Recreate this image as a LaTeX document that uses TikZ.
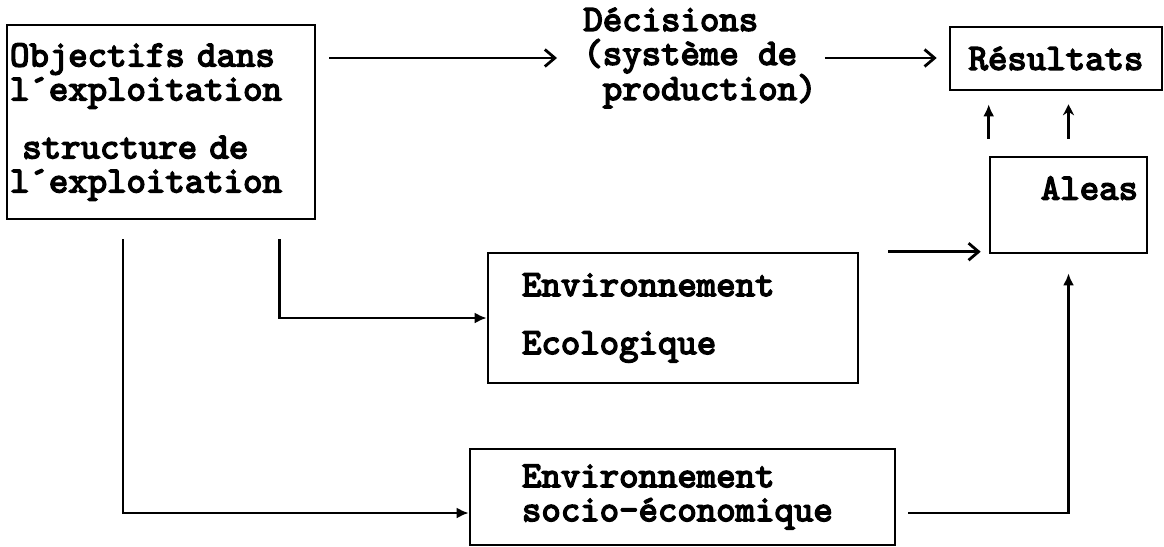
\documentclass[tikz,border=0pt]{standalone}
\usepackage{fontspec}
\newfontfamily\machine{lmmono10-regular.otf}[FakeBold=4]
\usetikzlibrary{arrows.meta}

\begin{document}
\begin{tikzpicture}[
  x=1pt, y=-1pt,
  line width=2.8pt,
  every node/.style={font=\machine\fontsize{37}{34}\selectfont},
  boite/.style={draw, line width=2.6pt, inner sep=0pt},
  chev/.style={-{Straight Barb[length=10pt,width=17pt]}},
  plein/.style={-{Latex[length=12pt,width=11pt]}}
]
  \useasboundingbox (0,0) rectangle (1164,546);
  % les cadres
  \node[boite, minimum height=194pt, inner xsep=3pt, text width=302pt, align=left] (obj) at (161,122)
    {Objectifs dans\\l´exploitation\\[24pt]~structure de\\l´exploitation};
  \node[inner sep=0pt, anchor=west, align=left] (dec) at (582,58)
    {Décisions\\(système de\\~production)};
  \node[boite, minimum width=212pt, minimum height=63pt] (res) at (1056,58.5) {Résultats};
  \node[boite, minimum width=157pt, minimum height=96pt, text width=139pt, align=right] (aleas) at (1068.5,205)
    {Aleas\\~};
  \node[boite, minimum height=130pt, inner xsep=34pt, text width=302pt, align=left] (eco) at (673,318)
    {Environnement\\[24pt]Ecologique};
  \node[boite, minimum height=96pt, inner xsep=52pt, text width=321pt, align=left] (socio) at (682.5,497)
    {Environnement\\socio-économique};
  % les fleches
  \draw[chev, shorten <=13pt, shorten >=25pt] (obj.east |- dec.west) -- (dec.west);
  \draw[chev, shorten <=7pt, shorten >=12pt] (dec.east) -- (dec.east -| res.west);
  \draw[plein, shorten <=17pt, shorten >=13pt] (aleas.north west) -- (aleas.north west |- res.south);
  \draw[-{Stealth[length=11pt,width=11pt]}, shorten <=17pt, shorten >=13pt] (aleas.north) -- (aleas.north |- res.south);
  \draw[chev, shorten <=29pt, shorten >=8pt] (eco.north east) -- (eco.north east -| aleas.west);
  \draw[plein, shorten <=19pt] ([xshift=-37pt]obj.south east) |- (eco.west);
  \draw[plein, shorten <=19pt] ([xshift=-38pt]obj.south) |- ([yshift=-16pt]socio.west);
  \draw[plein, shorten <=12pt, shorten >=19pt] ([yshift=-16pt]socio.east) -| (aleas.south);
\end{tikzpicture}
\end{document}
